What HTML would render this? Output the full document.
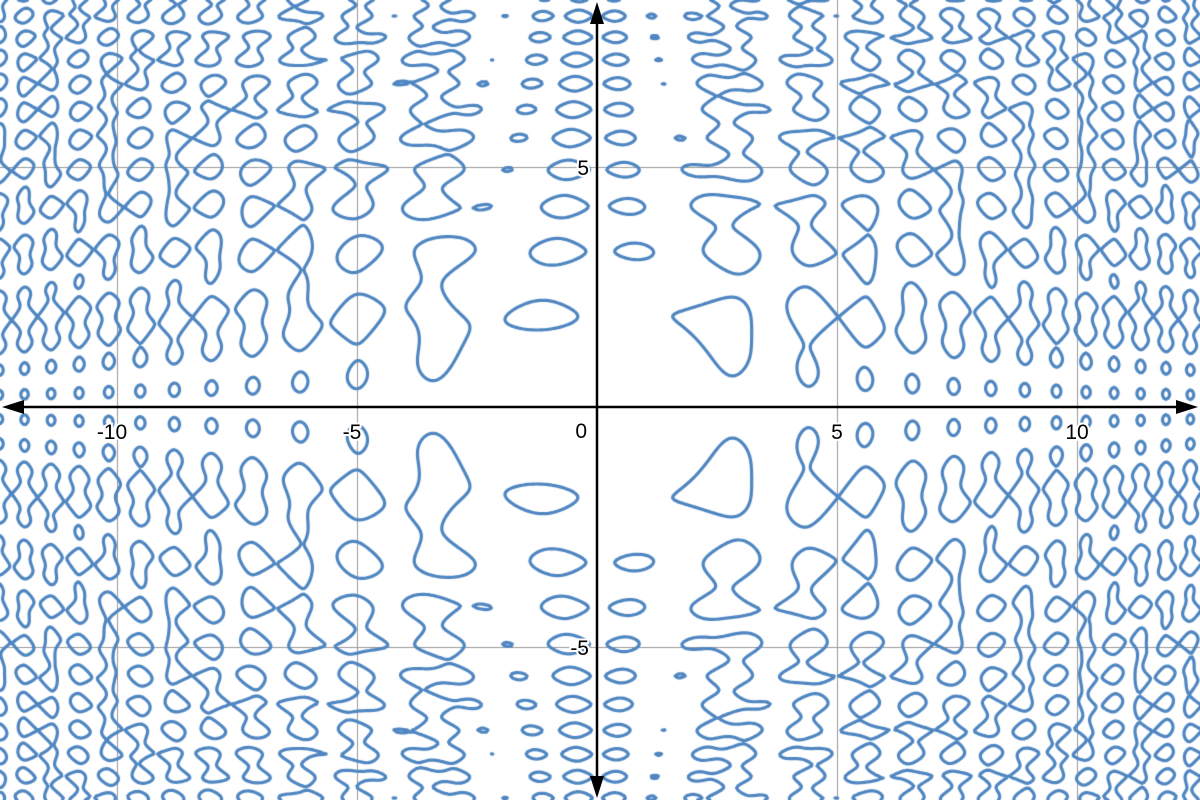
<!DOCTYPE html>
<html><head><meta charset="utf-8"><style>
html,body{margin:0;padding:0;background:#fff;width:1200px;height:800px;overflow:hidden}
#wrap{position:relative;width:1200px;height:800px}
canvas,svg{position:absolute;left:0;top:0}
</style></head><body>
<div id="wrap">
<canvas id="c" width="1200" height="800"></canvas>
<svg width="1200" height="800" font-family="Liberation Sans, sans-serif" font-size="21">
</svg>
</div>
<script>
// f(x,y) = sin(xQuad*x^2 + xLin*x) + xyAmp*cos(x*y) + yAmp*cos(yQuad*y^2) + offset
const xTerms = [0.5, 0.3];      // quadratic, linear
const xyTerms = [0.6, 1.0];     // amplitude, frequency
const yTerms = [0.8, 0.9];      // amplitude, quadratic
const offsetTerms = [0.4];
const xTicks = [-10, -5, 5, 10];
const yTicks = [5, -5];

const W = 1200, H = 800, OX = 597, OY = 407, S = 48;
const sx = v => OX + v * S, sy = v => OY - v * S;
const ix = p => (p - OX) / S, iy = p => (OY - p) / S;
function f(x, y) {
  return Math.sin(xTerms[0]*x*x + xTerms[1]*x) + xyTerms[0]*Math.cos(xyTerms[1]*x*y) + yTerms[0]*Math.cos(yTerms[1]*y*y) + offsetTerms[0];
}
const cv = document.getElementById('c'), ctx = cv.getContext('2d');
ctx.strokeStyle = '#999'; ctx.lineWidth = 1;
for (let k = -15; k <= 15; k += 5) {
  if (k === 0) continue;
  ctx.beginPath(); ctx.moveTo(Math.round(sx(k)) + .5, 0); ctx.lineTo(Math.round(sx(k)) + .5, H); ctx.stroke();
  ctx.beginPath(); ctx.moveTo(0, Math.round(sy(k)) + .5); ctx.lineTo(W, Math.round(sy(k)) + .5); ctx.stroke();
}
const st = 2, nx = W / st + 1, ny = H / st + 1;
const g = new Float32Array(nx * ny);
for (let j = 0; j < ny; j++) for (let i = 0; i < nx; i++) g[j*nx+i] = f(ix(i*st), iy(j*st));
ctx.strokeStyle = '#4f86c1'; ctx.lineWidth = 3.2; ctx.lineCap = 'round';
ctx.beginPath();
for (let j = 0; j < ny - 1; j++) for (let i = 0; i < nx - 1; i++) {
  const a = g[j*nx+i], b = g[j*nx+i+1], c = g[(j+1)*nx+i+1], d = g[(j+1)*nx+i];
  const x0 = i*st, y0 = j*st, pts = [];
  if ((a > 0) !== (b > 0)) pts.push([x0 + st*a/(a-b), y0]);
  if ((b > 0) !== (c > 0)) pts.push([x0 + st, y0 + st*b/(b-c)]);
  if ((d > 0) !== (c > 0)) pts.push([x0 + st*d/(d-c), y0 + st]);
  if ((a > 0) !== (d > 0)) pts.push([x0, y0 + st*a/(a-d)]);
  if (pts.length >= 2) { ctx.moveTo(pts[0][0], pts[0][1]); ctx.lineTo(pts[1][0], pts[1][1]); }
  if (pts.length === 4) { ctx.moveTo(pts[2][0], pts[2][1]); ctx.lineTo(pts[3][0], pts[3][1]); }
}
ctx.stroke();

const svg = document.querySelector('svg'), NS = 'http://www.w3.org/2000/svg';
function mk(tag, attrs) { const e = document.createElementNS(NS, tag); for (const k in attrs) e.setAttribute(k, attrs[k]); svg.appendChild(e); return e; }
let e;
e = mk('line', {x1: 10, y1: OY, x2: 1190, y2: OY, stroke: '#000', 'stroke-width': 2.5});
 
e = mk('line', {x1: OX, y1: 10, x2: OX, y2: 790, stroke: '#000', 'stroke-width': 2.5});
 
e = mk('polygon', {points: `1198,${OY} 1176,${OY-7} 1176,${OY+7}`, fill: '#000'});
 
e = mk('polygon', {points: `2,${OY} 24,${OY-7} 24,${OY+7}`, fill: '#000'});
 
e = mk('polygon', {points: `${OX},2 ${OX-7},24 ${OX+7},24`, fill: '#000'});
 
e = mk('polygon', {points: `${OX},798 ${OX-7},776 ${OX+7},776`, fill: '#000'});
 
function label(txt, x, y, anchor, name) {
  const t = mk('text', {x: x, y: y, 'text-anchor': anchor, fill: '#000', stroke: '#fff', 'stroke-width': 4, 'paint-order': 'stroke'});
  t.textContent = txt;
   
}
xTicks.forEach(v => label(String(v), sx(v) - (v < 0 ? 5 : 0), OY + 32, 'middle', 'x-tick-label'));
yTicks.forEach(v => label(String(v), OX - 8, sy(v) + 8, 'end', 'y-tick-label'));
label('0', OX - 10, OY + 31, 'end', 'origin-label');
</script>
</body></html>
